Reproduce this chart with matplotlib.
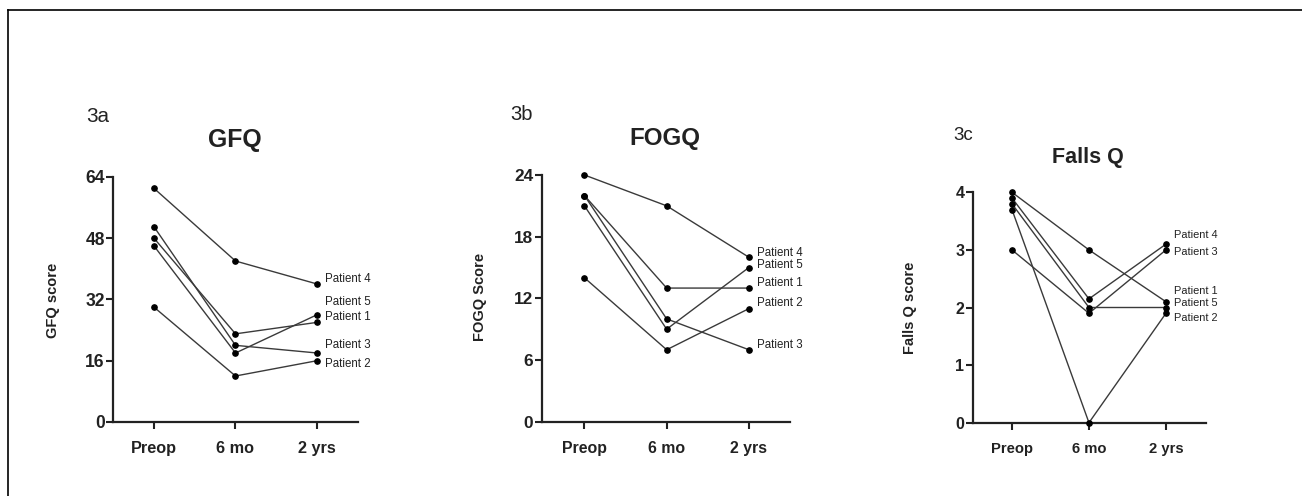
import numpy as np
import matplotlib
matplotlib.use("Agg")
import matplotlib.pyplot as plt
from matplotlib.lines import Line2D

plt.rcParams['font.family'] = ['Liberation Sans', 'DejaVu Sans']

W, H = 1302, 496

timepoints = ['Preop', '6 mo', '2 yrs']
patients = ['Patient 1', 'Patient 2', 'Patient 3', 'Patient 4', 'Patient 5']

gfq = [[48, 23, 26], [30, 12, 16], [51, 20, 18], [61, 42, 36], [46, 18, 28]]
fogq = [[22, 13, 13], [14, 7, 11], [22, 10, 7], [24, 21, 16], [21, 9, 15]]
falls = [[4.0, 3.0, 2.1], [3.7, 0, 1.9], [3.0, 1.9, 3.0], [3.9, 2.15, 3.1], [3.8, 2.0, 2.0]]

# where each patient name sits next to the last point
gfq_lab = [27.4, 15.1, 20.1, 37.3, 31.4]
fogq_lab = [13.5, 11.5, 7.5, 16.4, 15.2]
falls_lab = [2.29, 1.82, 2.97, 3.26, 2.08]


def px(x0, y0, x1, y1):
    return [x0 / W, 1 - y1 / H, (x1 - x0) / W, (y1 - y0) / H]


fig = plt.figure(figsize=(W / 100, H / 100), dpi=100)

# k scales the text of each panel (the panels are not quite the same size)
panels = [
    dict(rect=px(113, 176.7, 358, 422), data=gfq, lab=gfq_lab, ymax=64, yt=[0, 16, 32, 48, 64],
         xl=(-0.5, 2.5), ylabel='GFQ score', ylc=(-0.216, 0.497), k=1.1, lfs=8.3,
         tag='3a', tagxy=(86, 117), title='GFQ', titlexy=(235, 140)),
    dict(rect=px(541.7, 175, 790, 421.7), data=fogq, lab=fogq_lab, ymax=24, yt=[0, 6, 12, 18, 24],
         xl=(-0.52, 2.5), ylabel='FOGQ Score', ylc=(-0.22, 0.505), k=1.08, lfs=8.3,
         tag='3b', tagxy=(510, 115), title='FOGQ', titlexy=(665, 138)),
    dict(rect=px(972.7, 192.3, 1206, 422.7), data=falls, lab=falls_lab, ymax=4, yt=[0, 1, 2, 3, 4],
         xl=(-0.51, 2.52), ylabel='Falls Q score', ylc=(-0.239, 0.498), k=1.0, lfs=7.9,
         tag='3c', tagxy=(953, 136), title='Falls Q', titlexy=(1088, 157)),
]

for p in panels:
    k = p['k']
    ax = fig.add_axes(p['rect'])
    x = np.arange(len(timepoints))
    for vals in p['data']:
        ax.plot(x, vals, color='#3a3a3a', lw=1.0, marker='o', ms=3.8,
                mfc='black', mec='black', clip_on=False, zorder=3)
    for name, ly in zip(patients, p['lab']):
        ax.annotate(name, xy=(2, ly), xytext=(6, 0), textcoords='offset points',
                    fontsize=p['lfs'], color='#222222', va='center', ha='left',
                    annotation_clip=False)
    ax.set_xlim(*p['xl'])
    ax.set_ylim(0, p['ymax'])
    ax.set_xticks(x)
    ax.set_xticklabels(timepoints, fontsize=10.6 * k, fontweight='bold', color='#222222')
    ax.set_yticks(p['yt'])
    ax.set_yticklabels([str(t) for t in p['yt']], fontsize=11.5 * k, fontweight='bold', color='#222222')
    ax.tick_params(axis='x', direction='out', length=5, width=1.5, pad=9, color='#222222')
    ax.tick_params(axis='y', direction='out', length=5, width=1.5, pad=1, color='#222222')
    for s in ['top', 'right']:
        ax.spines[s].set_visible(False)
    for s in ['left', 'bottom']:
        ax.spines[s].set_linewidth(1.6)
        ax.spines[s].set_color('#222222')
    ax.set_ylabel(p['ylabel'], fontsize=10.5, fontweight='bold', color='#222222')
    ax.yaxis.set_label_coords(*p['ylc'])

    tx, ty = p['tagxy']
    fig.text(tx / W, 1 - ty / H, p['tag'], fontsize=13.5 * k, ha='left', va='center', color='#222222')
    cx, cy = p['titlexy']
    fig.text(cx / W, 1 - cy / H, p['title'], fontsize=15.5 * k ** 1.5, fontweight='bold',
             ha='center', va='center', color='#222222')

# outer frame, top and left edges
fig.add_artist(Line2D([8 / W, 1], [1 - 10 / H, 1 - 10 / H], color='black', lw=1.2))
fig.add_artist(Line2D([8 / W, 8 / W], [0, 1 - 10 / H], color='black', lw=1.2))

fig.savefig('out.png', dpi=100)
